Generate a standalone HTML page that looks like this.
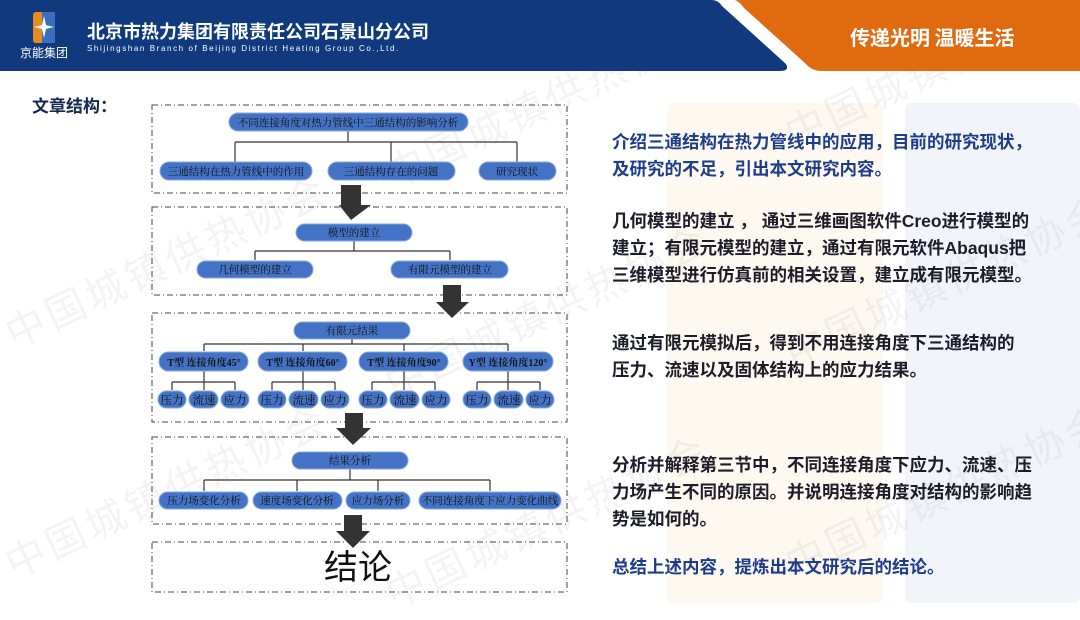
<!DOCTYPE html>
<html><head><meta charset="utf-8"><style>
*{margin:0;padding:0;box-sizing:border-box}
body{width:1080px;height:608px;position:relative;overflow:hidden;background:#fff;font-family:"Liberation Sans","Noto Sans CJK SC",sans-serif}
.a{position:absolute}
.wm{position:absolute;color:rgba(120,120,120,0.09);font-size:40px;transform:rotate(-25deg);white-space:nowrap;font-family:"Noto Sans CJK SC",sans-serif;letter-spacing:4px}
.p{position:absolute;left:612px;font-size:17.5px;font-weight:bold;line-height:27px;color:#1c1c2a;white-space:nowrap;font-family:"Liberation Sans","Noto Sans CJK SC",sans-serif}
.b{color:#1e3c8c}
</style></head><body>
<div class="a" style="left:667px;top:103px;width:216px;height:500px;background:#fdf8f0;border-radius:6px"></div>
<div class="a" style="left:905px;top:103px;width:175px;height:500px;background:#f1f5fa;border-radius:6px"></div>

<div class="wm" style="left:-10px;top:230px">中国城镇供热协会</div>
<div class="wm" style="left:370px;top:70px">中国城镇供热协会</div>
<div class="wm" style="left:770px;top:30px">中国城镇供热协会</div>
<div class="wm" style="left:370px;top:280px">中国城镇供热协会</div>
<div class="wm" style="left:770px;top:250px">中国城镇供热协会</div>
<div class="wm" style="left:-10px;top:460px">中国城镇供热协会</div>
<div class="wm" style="left:370px;top:490px">中国城镇供热协会</div>
<div class="wm" style="left:770px;top:460px">中国城镇供热协会</div>

<svg class="a" style="left:0;top:0" width="1080" height="80">
<path d="M0 0 H712 Q718 0 722 6 L786 64 Q790 71 780 71 H0 Z" fill="#113a7e"/>
<path d="M734 0 H1080 V71 H822 Q812 71 806 64 L744 8 Q738 0 734 0 Z" fill="#e06a10"/>
<rect x="33" y="12" width="22" height="31" rx="3" fill="#e88a20"/>
<rect x="42" y="12" width="13" height="31" fill="#3a6fc0"/>
<path d="M44 16 L46 25 L54 27 L46 29 L44 38 L42 29 L34 27 L42 25Z" fill="#fff"/>
</svg>
<div class="a" style="left:20px;top:44px;color:#fff;font-size:12px;font-family:'Noto Sans CJK SC',sans-serif">京能集团</div>
<div class="a" style="left:87px;top:18px;color:#fff;font-size:18px;font-weight:bold;font-family:'Noto Sans CJK SC',sans-serif">北京市热力集团有限责任公司石景山分公司</div>
<div class="a" style="left:87px;top:44px;color:#fff;font-size:8px;letter-spacing:1.6px">Shijingshan Branch of Beijing District Heating Group Co.,Ltd.</div>
<div class="a" style="left:850px;top:22px;color:#fff;font-size:20px;font-weight:bold;font-family:'Noto Sans CJK SC',sans-serif">传递光明 温暖生活</div>

<div class="a" style="left:32px;top:92px;color:#142850;font-size:17px;font-weight:bold;font-family:'Noto Sans CJK SC',sans-serif">文章结构：</div>

<svg class="a" style="left:0;top:0" width="1080" height="608" font-family="Liberation Serif,Noto Serif CJK SC,serif">
<g fill="none" stroke="#444" stroke-dasharray="6,3,1,3" stroke-width="1">
<rect x="152" y="105" width="415" height="88"/>
<rect x="152" y="207" width="415" height="88"/>
<rect x="152" y="313" width="415" height="109"/>
<rect x="152" y="437" width="415" height="87"/>
<rect x="152" y="542" width="415" height="50"/>
</g>
<g stroke="#333" stroke-width="1.2" fill="none">
<path d="M348 131V142M235 142H517M235 142V162M391 142V162M517 142V162"/>
<path d="M354 241V251M255 251H450M255 251V260M450 251V260"/>
<path d="M352 339V344M204 344H508M204 344V351M303 344V351M404 344V351M508 344V351"/>
<path d="M204 371V382M172 382H235M172 382V390M204 382V390M235 382V390"/>
<path d="M303 371V382M272 382H335M272 382V390M303 382V390M335 382V390"/>
<path d="M404 371V382M372 382H435M372 382V390M404 382V390M435 382V390"/>
<path d="M508 371V382M477 382H540M477 382V390M508 382V390M540 382V390"/>
<path d="M350 469V480M204 480H490M204 480V491M297 480V491M378 480V491M490 480V491"/>
</g>
<g fill="#333">
<path d="M341 185H361V205H371L351 220L339 205H341Z"/>
<path d="M443 285H461V302H469L452 318L436 302H443Z"/>
<path d="M345 413H363V428H371L353 445L336 428H345Z"/>
<path d="M344 515H362V531H370L353 548L336 531H344Z"/>
</g>
<g fill="#4472c4" stroke="#86a8e0" stroke-width="1">
<rect x="229" y="113" width="239" height="18" rx="9"/>
<rect x="160" y="162" width="152" height="18" rx="9"/>
<rect x="328" y="162" width="127" height="18" rx="9"/>
<rect x="479" y="162" width="77" height="18" rx="9"/>
<rect x="296" y="224" width="116" height="17" rx="8.5"/>
<rect x="197" y="261" width="116" height="17" rx="8.5"/>
<rect x="391" y="261" width="117" height="17" rx="8.5"/>
<rect x="294" y="322" width="116" height="17" rx="8.5"/>
<rect x="159" y="352" width="89" height="19" rx="9.5"/>
<rect x="258" y="352" width="89" height="19" rx="9.5"/>
<rect x="359" y="352" width="89" height="19" rx="9.5"/>
<rect x="463" y="352" width="90" height="19" rx="9.5"/>
<g id="l"><rect x="158" y="391" width="28" height="17" rx="8.5"/><rect x="189" y="391" width="29" height="17" rx="8.5"/><rect x="221" y="391" width="28" height="17" rx="8.5"/></g>
<use href="#l" x="100"/><use href="#l" x="201"/><use href="#l" x="305"/>
<rect x="292" y="452" width="116" height="17" rx="8.5"/>
<rect x="159" y="492" width="89" height="17" rx="8.5"/>
<rect x="253" y="492" width="89" height="17" rx="8.5"/>
<rect x="346" y="492" width="64" height="17" rx="8.5"/>
<rect x="419" y="492" width="142" height="17" rx="8.5"/>
</g>
<g font-size="10.5" fill="#111" text-anchor="middle">
<text x="348" y="126">不同连接角度对热力管线中三通结构的影响分析</text>
<text x="236" y="175">三通结构在热力管线中的作用</text>
<text x="391" y="175">三通结构存在的问题</text>
<text x="517" y="175">研究现状</text>
<text x="354" y="236">模型的建立</text>
<text x="255" y="273">几何模型的建立</text>
<text x="450" y="273">有限元模型的建立</text>
<text x="352" y="334">有限元结果</text>
<g font-weight="bold" font-size="10"><text x="204" y="366">T型 连接角度45°</text><text x="303" y="366">T型 连接角度60°</text><text x="404" y="366">T型 连接角度90°</text><text x="508" y="366">Y型 连接角度120°</text></g>
<g font-size="11.5"><g id="t"><text x="172" y="404">压力</text><text x="204" y="404">流速</text><text x="235" y="404">应力</text></g>
<use href="#t" x="100"/><use href="#t" x="201"/><use href="#t" x="305"/></g>
<text x="350" y="464">结果分析</text>
<text x="204" y="504">压力场变化分析</text>
<text x="297" y="504">速度场变化分析</text>
<text x="378" y="504">应力场分析</text>
<text x="490" y="504">不同连接角度下应力变化曲线</text>
<text x="358" y="579" font-size="34" font-family="Noto Sans CJK SC,sans-serif">结论</text>
</g>
</svg>

<div class="p b" style="top:129px">介绍三通结构在热力管线中的应用，目前的研究现状，<br>及研究的不足，引出本文研究内容。</div>
<div class="p" style="top:208px">几何模型的建立 ， 通过三维画图软件Creo进行模型的<br>建立；有限元模型的建立，通过有限元软件Abaqus把<br>三维模型进行仿真前的相关设置，建立成有限元模型。</div>
<div class="p" style="top:330px">通过有限元模拟后，得到不用连接角度下三通结构的<br>压力、流速以及固体结构上的应力结果。</div>
<div class="p" style="top:452px">分析并解释第三节中，不同连接角度下应力、流速、压<br>力场产生不同的原因。并说明连接角度对结构的影响趋<br>势是如何的。</div>
<div class="p b" style="top:554px">总结上述内容，提炼出本文研究后的结论。</div>
</body></html>
